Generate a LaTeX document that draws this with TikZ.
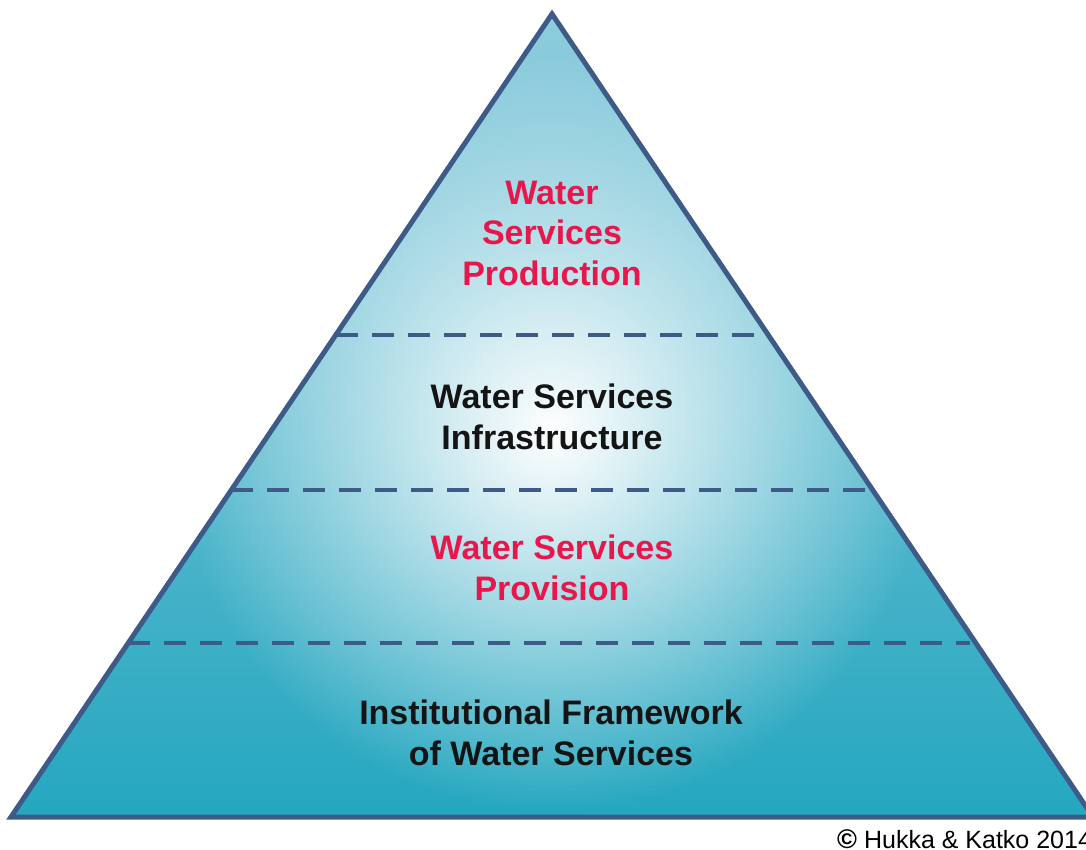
\documentclass[tikz,border=0pt]{standalone}
\usepackage{fontspec}
\setmainfont{Liberation Sans}
\usetikzlibrary{fadings}
\definecolor{pyredge}{HTML}{3E5B88}
\definecolor{pyrred}{HTML}{E8174B}
\definecolor{pyrtop}{HTML}{8ECCDD}
\definecolor{pyrbase}{HTML}{25A7C0}
\tikzfading[name=glowfade, inner color=transparent!0, outer color=transparent!100]

\begin{document}
\begin{tikzpicture}[x=1pt,y=-1pt,
  levelline/.style={pyredge, line width=4.5pt, dash pattern=on 22pt off 14pt},
  tiertext/.style={font=\bfseries\fontsize{34}{40.5}\selectfont, align=center, inner sep=0pt, text=black!92}]
\useasboundingbox[fill=white] (0,0) rectangle (1086,850);
\coordinate (apex) at (552,14);
\coordinate (bl) at (11,817);
\coordinate (br) at (1093,817);
\begin{scope}
\clip (apex) -- (bl) -- (br) -- cycle;
\shade[top color=pyrtop, bottom color=pyrbase] (0,14) rectangle (1100,817);
\fill[white, path fading=glowfade] (552,430) circle (380);
\end{scope}
\coordinate (l1) at (336,335);
\coordinate (r1) at (758,335);
\coordinate (l2) at (231,490);
\coordinate (r2) at (866,490);
\coordinate (l3) at (128,643);
\coordinate (r3) at (970,643);
\draw[levelline] (l1) -- (r1);
\draw[levelline] (l2) -- (r2);
\draw[levelline] (l3) -- (r3);
\draw[pyredge, line width=5pt] (apex) -- (bl) -- (br) -- cycle;
\node[tiertext, text=pyrred] (production) at (552,233) {Water\\Services\\Production};
\node[tiertext] (infrastructure) at (552,417) {Water Services\\Infrastructure};
\node[tiertext, text=pyrred] (provision) at (552,568) {Water Services\\Provision};
\node[tiertext] (framework) at (551,733) {Institutional Framework\\of Water Services};
\node[anchor=base west, font=\fontsize{25}{28}\selectfont, inner sep=0pt] (credit) at (837,848) {{\bfseries\fontsize{27}{28}\selectfont ©} Hukka \& Katko 2014};
\end{tikzpicture}
\end{document}
